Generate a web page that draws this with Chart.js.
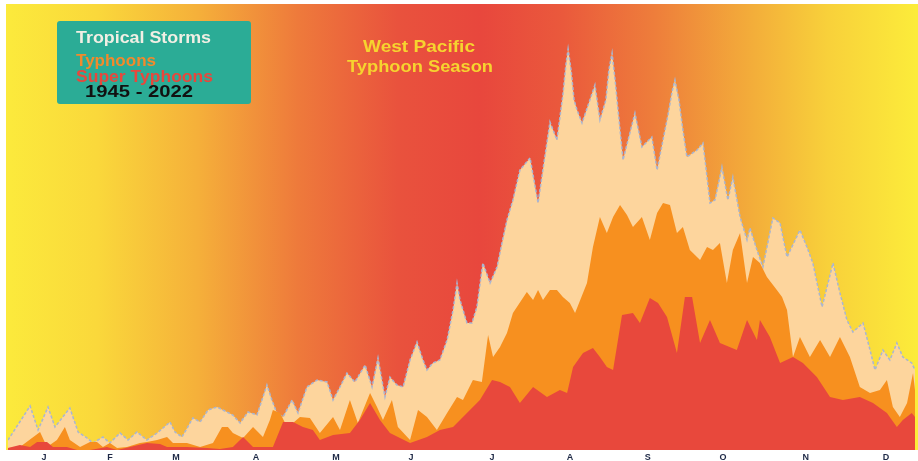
<!DOCTYPE html>
<html>
<head>
<meta charset="utf-8">
<script src="https://cdn.jsdelivr.net/npm/chart.js@4.4.0/dist/chart.umd.min.js"></script>
<style>
  body { margin: 0; background: #ffffff; }
  #wrap { width: 918px; height: 461px; }
</style>
</head>
<body>
<div id="wrap"><canvas id="typhoonChart" width="918" height="461"></canvas></div>
<script>
// Month labels along the bottom (placed at mid-month day numbers)
const monthLabels = ['J', 'F', 'M', 'A', 'M', 'J', 'J', 'A', 'S', 'O', 'N', 'D'];
const monthTickDays = [14.5, 41, 67.6, 99.8, 132, 162.2, 194.8, 226.2, 257.5, 287.7, 321, 353.3];

// All tropical storms (day of year, relative count)
const stormDays = [0, 8.9, 12.1, 16.1, 18.9, 24.9, 28.2, 31.8, 34.2, 38.2, 41.0, 45.1, 48.3, 51.9, 55.9, 60.0,
  62.4, 65.2, 67.2, 70.0, 74.4, 77.3, 80.5, 84.1, 86.5, 90.5, 93.4, 96.6, 100.2, 104.2, 106.2, 108.2, 110.7,
  114.3, 116.7, 120.3, 124.4, 128.4, 130.8, 133.6, 136.4, 139.6, 143.7, 146.5, 148.9, 151.7, 153.7, 156.5,
  159.0, 161.8, 164.6, 167.0, 168.6, 171.0, 173.8, 176.7, 179.1, 180.7, 181.9, 184.7, 186.7, 188.7, 191.1,
  194.0, 196.8, 198.8, 200.8, 203.2, 206.0, 210.1, 213.3, 218.1, 220.9, 223.3, 224.5, 225.4, 226.6, 227.8,
  229.0, 231.0, 236.2, 238.2, 240.6, 241.8, 243.1, 244.3, 245.9, 247.5, 252.3, 255.1, 259.1, 261.2, 263.6,
  265.6, 267.2, 268.4, 270.0, 271.6, 273.2, 277.3, 279.7, 282.5, 284.5, 287.3, 289.7, 291.7, 294.6, 297.4,
  298.6, 301.4, 303.8, 307.8, 310.7, 313.5, 318.7, 321.5, 323.9, 327.6, 332.0, 334.8, 337.6, 340.0, 344.1,
  346.9, 348.9, 352.1, 354.9, 357.7, 360.1, 363.7, 365];
const stormCounts = [10, 44, 20, 43, 23, 42, 18, 12, 7, 13, 7, 17, 10, 18, 10, 17,
  22, 28, 18, 13, 32, 28, 40, 43, 40, 35, 27, 38, 35, 65, 50, 37, 33,
  50, 37, 63, 70, 68, 50, 63, 77, 68, 85, 63, 92, 53, 73, 65,
  63, 90, 108, 90, 80, 87, 90, 110, 140, 167, 150, 127, 127, 143, 187,
  167, 183, 207, 230, 250, 280, 292, 247, 328, 310, 355, 385, 401, 380, 350,
  340, 327, 365, 330, 350, 380, 397, 370, 330, 290, 337, 303, 313, 280, 310,
  335, 358, 370, 350, 320, 293, 300, 307, 247, 250, 283, 250, 273, 233, 210,
  222, 200, 183, 232, 227, 193, 220, 203, 187, 143, 187, 157, 130, 118, 127,
  100, 80, 100, 90, 107, 93, 87, 80];

// Typhoons
const typhoonDays = [0, 4.8, 12.9, 15.7, 19.7, 22.9, 24.9, 29.0, 33.0, 35.8, 38.2, 41.0, 43.9, 47.9, 53.1,
  55.9, 60.0, 64.0, 66.4, 72.0, 77.3, 82.5, 86.1, 88.5, 90.5, 94.6, 98.6, 100.6, 102.6, 105.4, 106.6, 109.5,
  111.5, 114.7, 117.5, 121.5, 125.5, 130.8, 133.6, 137.6, 140.8, 145.7, 148.5, 150.9, 154.5, 156.9, 161.8,
  165.0, 168.6, 172.6, 176.7, 180.7, 183.1, 187.1, 190.7, 193.2, 195.2, 198.0, 200.8, 203.2, 208.8, 211.3,
  213.3, 215.3, 218.1, 220.9, 223.3, 226.1, 228.2, 233.0, 235.4, 238.2, 241.0, 243.5, 246.3, 249.1, 251.5,
  255.1, 258.3, 261.2, 263.6, 266.4, 269.2, 271.6, 274.4, 278.5, 281.3, 283.7, 286.5, 289.3, 291.7, 294.6,
  297.4, 299.8, 302.6, 305.4, 309.4, 311.5, 313.5, 315.9, 318.7, 322.7, 326.8, 330.8, 334.8, 338.8, 342.8,
  346.9, 350.9, 353.7, 356.1, 358.9, 361.8, 364.2, 365];
const typhoonCounts = [2, 3, 18, 3, 10, 23, 10, 3, 8, 8, 3, 7, 2, 3, 7,
  8, 10, 13, 7, 7, 3, 7, 23, 23, 17, 12, 23, 18, 13, 30, 40, 37,
  27, 27, 33, 32, 17, 33, 20, 50, 27, 57, 43, 30, 50, 23, 10,
  40, 33, 20, 37, 53, 50, 70, 68, 115, 93, 103, 117, 137, 158, 150,
  160, 150, 160, 160, 153, 147, 137, 167, 203, 233, 217, 233, 245, 235, 223,
  233, 210, 237, 247, 245, 217, 223, 200, 190, 203, 200, 207, 167, 200, 217,
  167, 193, 187, 173, 160, 153, 140, 93, 113, 93, 110, 93, 113, 93, 63,
  57, 60, 70, 43, 33, 47, 77, 60];

// Super typhoons
const superDays = [0, 4.8, 8.9, 11.7, 15.7, 18.1, 23.7, 27.8, 33.0, 39.8, 43.9, 55.9, 61.2, 64.0, 72.0,
  80.1, 85.3, 90.5, 94.6, 98.6, 106.6, 110.7, 114.7, 118.7, 122.7, 125.5, 130.8, 137.6, 141.6, 145.7, 149.7,
  153.7, 161.8, 168.6, 173.8, 179.1, 184.7, 189.9, 194.8, 198.0, 202.0, 206.0, 211.3, 216.9, 222.1, 225.0,
  227.4, 231.4, 235.4, 238.2, 241.0, 243.5, 247.1, 251.5, 254.3, 258.3, 261.6, 265.2, 269.2, 272.4, 275.3,
  278.5, 282.5, 286.5, 293.3, 297.4, 301.4, 302.6, 306.6, 310.7, 315.9, 319.9, 325.5, 330.8, 336.0, 342.8,
  348.1, 353.7, 357.7, 360.1, 363.7, 365];
const superCounts = [2, 5, 3, 8, 8, 3, 3, 0, 0, 3, 0, 7, 6, 3, 3,
  2, 1, 3, 13, 3, 3, 28, 28, 23, 20, 10, 15, 17, 30, 47, 30,
  17, 7, 13, 20, 23, 37, 50, 70, 68, 63, 47, 63, 53, 60, 57,
  83, 97, 102, 93, 83, 80, 135, 137, 127, 152, 147, 133, 97, 153, 153,
  107, 130, 107, 100, 130, 110, 130, 113, 87, 93, 87, 73, 53, 50, 53,
  47, 37, 23, 30, 37, 33];

const toPoints = (days, counts) => days.map((d, i) => ({ x: d, y: counts[i] }));

// Warm seasonal gradient behind the plot
const seasonBackground = {
    id: 'seasonBackground',
    beforeDraw(chart) {
        const { ctx, chartArea } = chart;
        const x0 = chartArea.left - 2;
        const x1 = chart.width;
        const grad = ctx.createLinearGradient(x0, 0, x1, 0);
        const stops = [
            [0, '#FCEA3C'], [0.10, '#FAD83B'], [0.21, '#F5B03A'], [0.32, '#EE7A3B'],
            [0.43, '#E9523D'], [0.52, '#E8473D'], [0.61, '#EA593C'], [0.71, '#EE7D3B'],
            [0.82, '#F3AE3A'], [0.90, '#F8D03A'], [1, '#FCEC3A']
        ];
        stops.forEach(s => grad.addColorStop(s[0], s[1]));
        ctx.save();
        ctx.fillStyle = grad;
        ctx.fillRect(x0, chartArea.top, x1 - x0, chartArea.bottom - chartArea.top);
        ctx.restore();
    }
};

// Draw text squeezed/stretched to a given width
function fitText(ctx, text, x, y, width) {
    const w = ctx.measureText(text).width;
    ctx.save();
    ctx.translate(x, y);
    ctx.scale(width / w, 1);
    ctx.fillText(text, 0, 0);
    ctx.restore();
}

// Legend box and title
const annotations = {
    id: 'annotations',
    afterDraw(chart) {
        const ctx = chart.ctx;
        ctx.save();
        ctx.fillStyle = '#2BAC96';
        ctx.beginPath();
        ctx.roundRect(57, 21, 194, 83, 3);
        ctx.fill();

        ctx.textAlign = 'left';
        ctx.textBaseline = 'alphabetic';
        ctx.font = 'bold 16px "Liberation Sans", Arial, sans-serif';
        ctx.fillStyle = '#F1EFE4';
        fitText(ctx, 'Tropical Storms', 76, 43, 135);
        ctx.fillStyle = '#F28A2C';
        fitText(ctx, 'Typhoons', 76, 66, 80);
        ctx.fillStyle = '#E8473C';
        fitText(ctx, 'Super Typhoons', 76, 82, 137);
        ctx.fillStyle = '#111111';
        fitText(ctx, '1945 - 2022', 85, 97, 108);

        ctx.font = 'bold 17px "Liberation Sans", Arial, sans-serif';
        ctx.fillStyle = '#F6D42F';
        fitText(ctx, 'West Pacific', 363, 52, 112);
        fitText(ctx, 'Typhoon Season', 347, 72, 146);
        ctx.restore();
    }
};

function initTyphoonChart() {
    const ctx = document.getElementById('typhoonChart').getContext('2d');
    new Chart(ctx, {
        type: 'line',
        data: {
            datasets: [
                {
                    label: 'Super Typhoons',
                    data: toPoints(superDays, superCounts),
                    backgroundColor: '#E8483C',
                    borderWidth: 0,
                    fill: 'origin'
                },
                {
                    label: 'Typhoons',
                    data: toPoints(typhoonDays, typhoonCounts),
                    backgroundColor: '#F7901F',
                    borderWidth: 0,
                    fill: 'origin'
                },
                {
                    label: 'Tropical Storms',
                    data: toPoints(stormDays, stormCounts),
                    backgroundColor: '#FDD59D',
                    borderColor: '#A9B6D2',
                    borderWidth: 1.5,
                    borderDash: [3, 2],
                    fill: 'origin'
                }
            ]
        },
        options: {
            responsive: false,
            animation: false,
            layout: { padding: { left: 8, right: 3, top: 4, bottom: 0 } },
            elements: { point: { radius: 0 }, line: { tension: 0 } },
            plugins: { legend: { display: false }, tooltip: { enabled: false } },
            scales: {
                x: {
                    type: 'linear',
                    min: 0,
                    max: 365,
                    grid: { display: false, drawTicks: false },
                    border: { display: false },
                    afterBuildTicks: axis => {
                        axis.ticks = monthTickDays.map(v => ({ value: v }));
                    },
                    afterFit: axis => {
                        axis.height = 11;
                    },
                    ticks: {
                        autoSkip: false,
                        maxRotation: 0,
                        padding: 2,
                        color: '#1E2946',
                        font: { family: '"Liberation Sans", Arial, sans-serif', size: 9, weight: 'bold' },
                        callback: (value, index) => monthLabels[index]
                    }
                },
                y: { display: false, min: 0, max: 446 }
            }
        },
        plugins: [seasonBackground, annotations]
    });
}

document.addEventListener('DOMContentLoaded', initTyphoonChart);
</script>
</body>
</html>
